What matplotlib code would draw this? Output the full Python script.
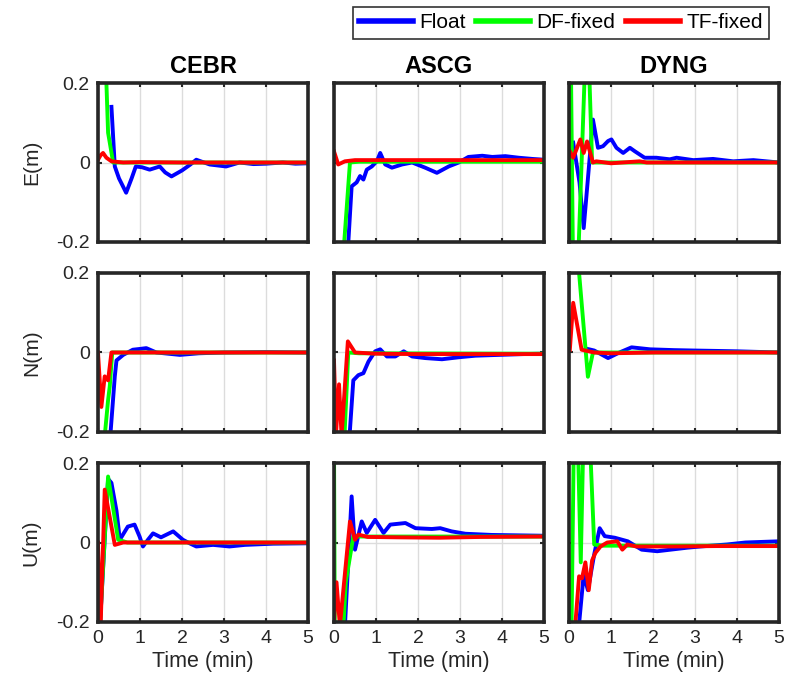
import matplotlib
matplotlib.use("Agg")
import matplotlib.pyplot as plt
from matplotlib.lines import Line2D

plt.rcParams['font.family'] = ['Liberation Sans', 'DejaVu Sans']

stations = ["CEBR", "ASCG", "DYNG"]
components = ["E(m)", "N(m)", "U(m)"]
series_names = ["Float", "DF-fixed", "TF-fixed"]
series_colors = ["#0000ff", "#00ff00", "#ff0000"]
x_ticks = [0, 1, 2, 3, 4, 5]
y_ticks = [-0.2, 0, 0.2]
y_tick_labels = ["-0.2", "0", "0.2"]

# ---------------- CEBR ----------------
cebr_e_float_t = [0.32, 0.4, 0.5, 0.67, 0.8, 0.9, 1.05, 1.23, 1.47, 1.6, 1.75, 2.0, 2.2, 2.34, 2.66, 3.05, 3.37, 3.7, 4.0, 4.4, 4.7, 5.0]
cebr_e_float_v = [0.14, -0.01, -0.04, -0.076, -0.04, -0.01, -0.012, -0.018, -0.01, -0.025, -0.035, -0.02, -0.005, 0.007, -0.005, -0.01, 0.0, -0.004, -0.003, 0.0, -0.003, -0.002]
cebr_e_df_t = [0.17, 0.2, 0.24, 0.36, 0.5, 5.0]
cebr_e_df_v = [0.4, 0.2, 0.075, 0.0, 0.0, 0.0]
cebr_e_tf_t = [0.0, 0.06, 0.12, 0.2, 0.32, 0.6, 1.0, 2.0, 3.0, 4.0, 5.0]
cebr_e_tf_v = [0.007, 0.018, 0.024, 0.012, 0.003, 0.0, 0.001, 0.0, 0.0, 0.0, 0.0]

cebr_n_float_t = [0.3, 0.4, 0.44, 0.6, 0.83, 1.0, 1.15, 1.39, 1.95, 2.4, 3.0, 4.0, 5.0]
cebr_n_float_v = [-0.2, -0.06, -0.02, -0.006, 0.007, 0.009, 0.011, 0.0, -0.006, -0.002, 0.0, 0.001, 0.0]
cebr_n_df_t = [0.0, 0.16, 0.24, 0.28, 0.34, 5.0]
cebr_n_df_v = [-0.21, -0.21, -0.12, -0.085, 0.0, 0.0]
cebr_n_tf_t = [0.0, 0.08, 0.16, 0.24, 0.32, 0.5, 5.0]
cebr_n_tf_v = [0.0, -0.137, -0.06, -0.07, 0.0, 0.0, 0.0]

cebr_u_float_t = [0.0, 0.04, 0.24, 0.32, 0.44, 0.52, 0.71, 0.87, 0.99, 1.07, 1.19, 1.31, 1.5, 1.79, 2.02, 2.18, 2.34, 2.74, 3.13, 3.5, 4.17, 5.0]
cebr_u_float_v = [-0.12, -0.22, 0.16, 0.15, 0.08, 0.007, 0.04, 0.045, 0.015, -0.01, 0.007, 0.023, 0.013, 0.028, 0.007, -0.002, -0.01, -0.006, -0.01, -0.006, -0.003, -0.002]
cebr_u_df_t = [0.0, 0.04, 0.24, 0.48, 0.7, 5.0]
cebr_u_df_v = [-0.12, -0.22, 0.166, 0.007, 0.0, 0.0]
cebr_u_tf_t = [0.0, 0.06, 0.16, 0.4, 0.6, 1.0, 2.0, 3.0, 4.0, 5.0]
cebr_u_tf_v = [0.0, -0.22, 0.133, -0.006, 0.0, 0.0, 0.0, 0.0, 0.0, 0.0]

# ---------------- ASCG ----------------
ascg_e_float_t = [0.33, 0.42, 0.54, 0.62, 0.7, 0.78, 0.9, 1.02, 1.1, 1.22, 1.38, 1.62, 1.86, 2.17, 2.45, 2.73, 2.97, 3.2, 3.53, 3.77, 4.08, 4.4, 4.72, 5.0]
ascg_e_float_v = [-0.22, -0.06, -0.05, -0.034, -0.043, -0.018, -0.01, 0.003, 0.024, -0.005, -0.013, -0.005, 0.0, -0.013, -0.026, -0.01, 0.0, 0.014, 0.017, 0.014, 0.016, 0.012, 0.009, 0.007]
ascg_e_df_t = [0.23, 0.38, 0.6, 5.0]
ascg_e_df_v = [-0.22, 0.0, 0.002, 0.002]
ascg_e_tf_t = [0.0, 0.1, 0.26, 0.5, 1.0, 2.0, 3.0, 4.0, 5.0]
ascg_e_tf_v = [0.028, -0.005, 0.003, 0.006, 0.006, 0.006, 0.006, 0.006, 0.006]

ascg_n_float_t = [0.37, 0.46, 0.58, 0.7, 0.82, 0.98, 1.1, 1.26, 1.46, 1.66, 1.86, 2.17, 2.57, 2.97, 3.37, 3.93, 4.5, 5.0]
ascg_n_float_v = [-0.21, -0.07, -0.057, -0.052, -0.023, 0.003, 0.008, -0.01, -0.01, 0.003, -0.01, -0.014, -0.017, -0.012, -0.008, -0.006, -0.004, -0.003]
ascg_n_df_t = [0.25, 0.34, 0.6, 5.0]
ascg_n_df_v = [-0.21, 0.0, -0.002, -0.003]
ascg_n_tf_t = [0.0, 0.05, 0.12, 0.18, 0.33, 0.5, 1.0, 2.0, 3.0, 4.0, 5.0]
ascg_n_tf_v = [-0.02, -0.2, -0.08, -0.21, 0.028, 0.0, -0.003, -0.004, -0.004, -0.004, -0.004]

ascg_u_float_t = [0.26, 0.42, 0.5, 0.66, 0.78, 0.98, 1.18, 1.34, 1.7, 1.94, 2.33, 2.53, 2.8, 3.13, 3.76, 5.0]
ascg_u_float_v = [-0.21, 0.116, -0.018, 0.053, 0.024, 0.057, 0.024, 0.045, 0.049, 0.036, 0.034, 0.036, 0.028, 0.022, 0.019, 0.017]
ascg_u_df_t = [0.0, 0.02, 0.06, 0.22, 0.28, 0.46, 0.7, 5.0]
ascg_u_df_v = [0.25, -0.25, -0.22, -0.22, -0.1, 0.015, 0.015, 0.015]
ascg_u_tf_t = [0.0, 0.06, 0.14, 0.38, 0.5, 0.58, 0.8, 1.5, 2.5, 3.5, 5.0]
ascg_u_tf_v = [-0.2, -0.1, -0.21, 0.053, 0.007, 0.02, 0.014, 0.013, 0.012, 0.014, 0.015]

# ---------------- DYNG ----------------
dyng_e_float_t = [0.1, 0.25, 0.35, 0.57, 0.69, 0.81, 0.93, 1.01, 1.13, 1.29, 1.45, 1.57, 1.8, 2.08, 2.4, 2.56, 2.96, 3.43, 3.91, 4.39, 5.0]
dyng_e_float_v = [0.05, -0.05, -0.165, 0.108, 0.037, 0.041, 0.054, 0.058, 0.037, 0.024, 0.037, 0.028, 0.012, 0.012, 0.008, 0.012, 0.006, 0.009, 0.003, 0.006, 0.0]
dyng_e_df_t = [0.0, 0.04, 0.1, 0.2, 0.4, 0.46, 0.55, 0.8, 5.0]
dyng_e_df_v = [-0.3, 0.3, -0.3, -0.3, 0.3, 0.3, 0.0, 0.0, 0.0]
dyng_e_tf_t = [0.02, 0.1, 0.27, 0.35, 0.43, 0.57, 0.65, 1.0, 1.68, 1.85, 5.0]
dyng_e_tf_v = [0.028, 0.012, 0.058, 0.024, 0.053, 0.0, 0.003, -0.002, 0.003, 0.0, 0.0]

dyng_n_float_t = [0.4, 0.6, 0.93, 1.2, 1.49, 1.93, 2.5, 2.96, 3.5, 4.0, 5.0]
dyng_n_float_v = [0.01, 0.005, -0.014, 0.0, 0.013, 0.008, 0.006, 0.005, 0.004, 0.003, 0.0]
dyng_n_df_t = [0.0, 0.2, 0.45, 0.57, 1.0, 5.0]
dyng_n_df_v = [0.25, 0.25, -0.061, 0.0, 0.0, 0.0]
dyng_n_tf_t = [0.02, 0.1, 0.3, 0.6, 1.0, 2.0, 3.0, 4.0, 5.0]
dyng_n_tf_v = [0.007, 0.125, 0.007, 0.0, -0.002, 0.0, 0.0, 0.0, 0.0]

dyng_u_float_t = [0.2, 0.35, 0.45, 0.6, 0.73, 0.85, 1.09, 1.4, 1.73, 2.1, 2.42, 2.82, 3.13, 3.76, 4.2, 5.0]
dyng_u_float_v = [-0.25, -0.08, -0.12, -0.03, 0.036, 0.016, 0.012, 0.003, -0.018, -0.022, -0.018, -0.013, -0.01, -0.005, 0.0, 0.003]
dyng_u_df_t = [0.0, 0.05, 0.12, 0.2, 0.28, 0.35, 0.48, 0.6, 0.8, 5.0]
dyng_u_df_v = [-0.15, -0.3, 0.3, 0.3, -0.05, 0.3, 0.3, -0.005, -0.008, -0.008]
dyng_u_tf_t = [0.14, 0.24, 0.31, 0.39, 0.47, 0.55, 0.63, 0.75, 0.91, 1.15, 1.27, 1.39, 1.6, 2.5, 3.5, 5.0]
dyng_u_tf_v = [-0.22, -0.085, -0.09, -0.05, -0.12, -0.045, -0.026, -0.01, 0.0, 0.003, -0.018, -0.005, -0.01, -0.01, -0.009, -0.009]

panels = [
    [  # row E
        [(cebr_e_float_t, cebr_e_float_v), (cebr_e_df_t, cebr_e_df_v), (cebr_e_tf_t, cebr_e_tf_v)],
        [(ascg_e_float_t, ascg_e_float_v), (ascg_e_df_t, ascg_e_df_v), (ascg_e_tf_t, ascg_e_tf_v)],
        [(dyng_e_float_t, dyng_e_float_v), (dyng_e_df_t, dyng_e_df_v), (dyng_e_tf_t, dyng_e_tf_v)],
    ],
    [  # row N
        [(cebr_n_float_t, cebr_n_float_v), (cebr_n_df_t, cebr_n_df_v), (cebr_n_tf_t, cebr_n_tf_v)],
        [(ascg_n_float_t, ascg_n_float_v), (ascg_n_df_t, ascg_n_df_v), (ascg_n_tf_t, ascg_n_tf_v)],
        [(dyng_n_float_t, dyng_n_float_v), (dyng_n_df_t, dyng_n_df_v), (dyng_n_tf_t, dyng_n_tf_v)],
    ],
    [  # row U
        [(cebr_u_float_t, cebr_u_float_v), (cebr_u_df_t, cebr_u_df_v), (cebr_u_tf_t, cebr_u_tf_v)],
        [(ascg_u_float_t, ascg_u_float_v), (ascg_u_df_t, ascg_u_df_v), (ascg_u_tf_t, ascg_u_tf_v)],
        [(dyng_u_float_t, dyng_u_float_v), (dyng_u_df_t, dyng_u_df_v), (dyng_u_tf_t, dyng_u_tf_v)],
    ],
]

W, H = 785, 697
fig = plt.figure(figsize=(W / 100, H / 100), dpi=100)

col_left = [98, 334, 569]
col_w = 210
row_top = [83, 273, 463]
row_h = 159

for r in range(3):
    for c in range(3):
        ax = fig.add_axes([col_left[c] / W, 1 - (row_top[r] + row_h) / H, col_w / W, row_h / H])
        for k in range(3):
            t, v = panels[r][c][k]
            ax.plot(t, v, color=series_colors[k], lw=2.8, solid_joinstyle='round', zorder=3 + k)
        ax.set_xlim(0, 5)
        ax.set_ylim(-0.2, 0.2)
        ax.set_xticks(x_ticks)
        ax.set_yticks(y_ticks)
        ax.grid(True, color="#dcdcdc", lw=1.0, zorder=0)
        ax.tick_params(direction='in', length=3, width=1.5, top=True, right=True,
                       labelsize=14, colors='#262626', pad=6)
        for s in ax.spines.values():
            s.set_linewidth(2.6)
            s.set_color('#262626')
            s.set_zorder(10)
        if c == 0:
            ax.set_yticklabels(y_tick_labels)
            ax.set_ylabel(components[r], fontsize=15, color='#262626', labelpad=11)
        else:
            ax.set_yticklabels([])
        if r == 2:
            ax.set_xticklabels([str(x) for x in x_ticks])
            ax.set_xlabel("Time (min)", fontsize=15.5, color='#262626', labelpad=3)
        else:
            ax.set_xticklabels([])
        if r == 0:
            ax.set_title(stations[c], fontsize=17, fontweight='bold', pad=7)

handles = [Line2D([0], [0], color=col, lw=4) for col in series_colors]
leg = fig.legend(handles, series_names, loc='upper right', bbox_to_anchor=(769 / W, 1 - 7 / H),
                 ncol=3, frameon=True, fancybox=False, fontsize=15, handlelength=2.6,
                 handletextpad=0.3, columnspacing=0.5, borderpad=0.3, borderaxespad=0)
leg.get_frame().set_edgecolor('black')
leg.get_frame().set_linewidth(1.2)

fig.savefig("out.png", dpi=100, facecolor='white')
